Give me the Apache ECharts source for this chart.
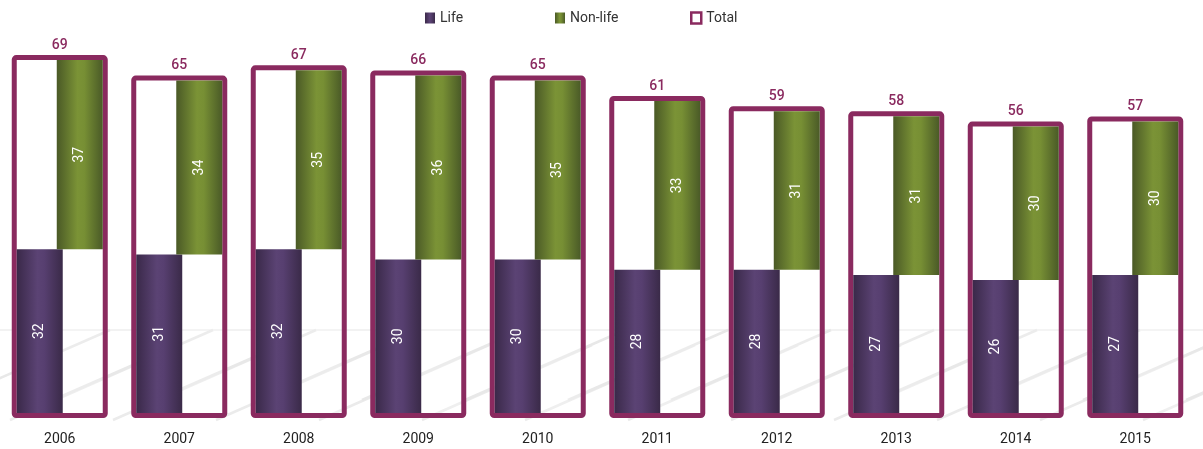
<!DOCTYPE html>
<html>
<head>
<meta charset="utf-8">
<script src="https://cdn.jsdelivr.net/npm/echarts@6/dist/echarts.min.js"></script>
<style>html,body{margin:0;padding:0;background:#fff}#c{width:1203px;height:449px}</style>
</head>
<body>
<div id="c"></div>
<script>
var years = ['2006','2007','2008','2009','2010','2011','2012','2013','2014','2015'];
var life = [32,31,32,30,30,28,28,27,26,27];
var nonLife = [37,34,35,36,35,33,31,31,30,30];
var total = [69,65,67,66,65,61,59,58,56,57];

var FONT = 'Roboto, "Noto Sans", sans-serif';
var TOTAL_COLOR = '#8A2A5F';
var lifeGrad = new echarts.graphic.LinearGradient(0,0,1,0,[
  {offset:0,color:'#3A2949'},{offset:0.45,color:'#5B4374'},{offset:0.6,color:'#573F70'},{offset:1,color:'#3A2A48'}]);
var nonGrad = new echarts.graphic.LinearGradient(0,0,1,0,[
  {offset:0,color:'#4A5926'},{offset:0.45,color:'#7B9336'},{offset:0.6,color:'#778F34'},{offset:1,color:'#4A5A27'}]);

// faint background decoration (perspective-like floor strokes)
var deco = [];
deco.push({type:'line', shape:{x1:0, y1:330, x2:1203, y2:330}, style:{stroke:'#f2f2f2', lineWidth:2}, z:-10});
for (var k = 0; k < 13; k++) {
  var x0 = -60 + k * 103;
  deco.push({type:'line', shape:{x1:x0+10, y1:400, x2:x0+170, y2:330}, style:{stroke:'#e8e8e8', lineWidth:2.5}, z:-10});
  deco.push({type:'line', shape:{x1:x0+70, y1:420, x2:x0+240, y2:345}, style:{stroke:'#ebebeb', lineWidth:2.5}, z:-10});
}

var chart = echarts.init(document.getElementById('c'), null, {renderer:'canvas'});
chart.setOption({
  animation:false,
  backgroundColor:'#fff',
  textStyle:{fontFamily:FONT},
  graphic: deco,
  legend:[
    {data:[{name:'Life', icon:'rect'}], left:425, top:11, itemWidth:10, itemHeight:11, padding:0,
     textStyle:{fontSize:14, color:'#333', fontFamily:FONT}},
    {data:[{name:'Non-life', icon:'rect'}], left:555, top:11, itemWidth:10, itemHeight:11, padding:0,
     textStyle:{fontSize:14, color:'#333', fontFamily:FONT}},
    {data:[{name:'Total', icon:'rect', itemStyle:{color:'#fff', borderColor:TOTAL_COLOR, borderWidth:2.5}}], left:690, top:11, itemWidth:10, itemHeight:11, padding:0,
     textStyle:{fontSize:14, color:'#333', fontFamily:FONT}}
  ],
  grid:{left:-2, right:8, top:55, bottom:36, containLabel:false},
  xAxis:{type:'category', data:years,
    axisLine:{show:false}, axisTick:{show:false},
    axisLabel:{color:'#222', fontSize:14, margin:19, fontFamily:FONT}},
  yAxis:{type:'value', min:0, max:70, show:false, splitLine:{show:false}},
  series:[
    {name:'Total', type:'custom', z:1,
     itemStyle:{color:'#fff', borderColor:TOTAL_COLOR},
     data: total.map(function(v,i){return [i,v];}),
     renderItem:function(params, api){
       var i = api.value(0), v = api.value(1);
       var p0 = api.coord([i,0]), p1 = api.coord([i,v]);
       var w = 91, lw = 5;
       var x = p0[0] - w/2;
       var yTop = p1[1] - lw/2, yBot = p0[1] + lw/2;
       return {type:'group', children:[
         {type:'rect', shape:{x:x, y:yTop, width:w, height:yBot-yTop, r:2},
          style:{fill:'rgba(255,255,255,0.2)', stroke:TOTAL_COLOR, lineWidth:lw}},
         {type:'text', style:{text:String(v), x:p0[0], y:p1[1]-15, align:'center', verticalAlign:'middle',
          fill:TOTAL_COLOR, fontSize:14, fontWeight:500, fontFamily:FONT}}
       ]};
     }},
    {name:'Life', type:'bar', data:life, barWidth:46, barGap:'-13%', z:3,
     itemStyle:{color:lifeGrad},
     label:{show:true, position:'inside', rotate:90, color:'#fff', fontSize:14, fontFamily:FONT}},
    {name:'base', type:'bar', stack:'nl', data:life, barWidth:46, silent:true, z:3,
     itemStyle:{color:'rgba(0,0,0,0)'}, label:{show:false}, tooltip:{show:false}},
    {name:'Non-life', type:'bar', stack:'nl', data:nonLife, barWidth:46, z:3,
     itemStyle:{color:nonGrad},
     label:{show:true, position:'inside', rotate:90, color:'#fff', fontSize:14, fontFamily:FONT}}
  ]
});
</script>
</body>
</html>
